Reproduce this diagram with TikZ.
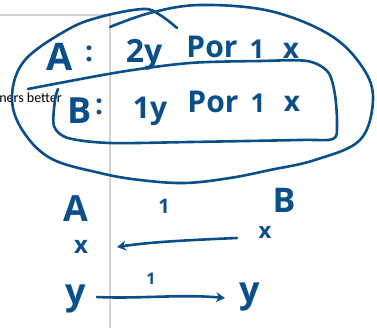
\documentclass[tikz,border=0pt]{standalone}
\usepackage{fontspec}
\setmainfont{Open Sans}
\newfontfamily\notefont{Carlito}
\usetikzlibrary{arrows.meta}
\definecolor{ink}{HTML}{0B4F8A}
\definecolor{pageline}{HTML}{D2D2D2}
\tikzset{
  pen/.style={draw=ink, line width=2.6pt, line cap=round, line join=round},
  hw/.style={text=ink, inner sep=0pt, font=\fontsize{#1}{#1}\selectfont\bfseries},
  hw/.default=28,
}
\begin{document}
\begin{tikzpicture}[x=1pt,y=-1pt]
\useasboundingbox (0,0) rectangle (377,328);
% page border
\draw[pageline, line width=1.4pt] (0,15) coordinate (pa) -- (110,15) coordinate (pb) -- (110,330) coordinate (pc);
\node[anchor=base east, inner sep=0pt, font=\notefont\fontsize{14}{14}\selectfont] (note) at (62,103) {ners better};
% big ellipse
\draw[pen] plot[smooth, tension=0.6] coordinates {
 (110,27) (150,13) (200,5) (270,11) (330,35) (363,68) (373,100) (360,140) (315,160)
 (270,170) (230,178) (185,183) (140,180) (100,173) (50,158) (21,128) (12,95)
 (25,60) (67,30) (100,17) (143,9) (160,15) (177,28)};
% rounded box
\draw[pen] plot[smooth, tension=0.5] coordinates {
 (28,89) (120,72) (190,63) (260,61) (307,61) (328,72) (335,95) (337,125) (333,139)
 (300,140) (190,142) (110,143) (68,138) (54,126) (55,100) (58,89)};
% top texts
\node[hw=38, anchor=base] (A1) at (60,71) {A};
\node[hw=28, anchor=base] (c1) at (89,62) {:};
\node[hw=32, anchor=base] (n1) at (144,63) {2y};
\node[hw=30, anchor=base] (p1) at (212,58) {Por};
\node[hw=26, anchor=base] (o1) at (257,59) {1};
\node[hw=28, anchor=base] (x1) at (291,59) {x};
\node[hw=36, anchor=base] (B1) at (80,124) {B};
\node[hw=28, anchor=base] (c2) at (99,115) {:};
\node[hw=30, anchor=base] (n2) at (150,119) {1y};
\node[hw=30, anchor=base] (p2) at (213,113) {Por};
\node[hw=26, anchor=base] (o2) at (258,113) {1};
\node[hw=28, anchor=base] (x2) at (292,112) {x};
% bottom
\node[hw=36, anchor=base] (A2) at (76,222) {A};
\node[hw=24, anchor=base] (xa) at (81,254) {x};
\node[hw=36, anchor=base] (ya) at (76,305) {y};
\node[hw=22, anchor=base] (xb) at (265,239) {x};
\node[hw=34, anchor=base] (B2) at (284,213) {B};
\node[hw=36, anchor=base] (yb) at (250,302) {y};
\node[hw=20, anchor=base] (l1) at (164,214) {1};
\node[hw=16, anchor=base] (l2) at (151,284) {1};
\coordinate (t1) at (237,238);
\coordinate (t2) at (117,247);
\coordinate (b1) at (97,297);
\coordinate (b2) at (225,298);
\draw[pen, -{Stealth[length=9pt,width=10pt]}] (t1) .. controls (190,240) and (150,242) .. (t2);
\draw[pen, -{Stealth[length=9pt,width=10pt]}] (b1) .. controls (140,299) and (180,294) .. (b2);
\end{tikzpicture}
\end{document}
